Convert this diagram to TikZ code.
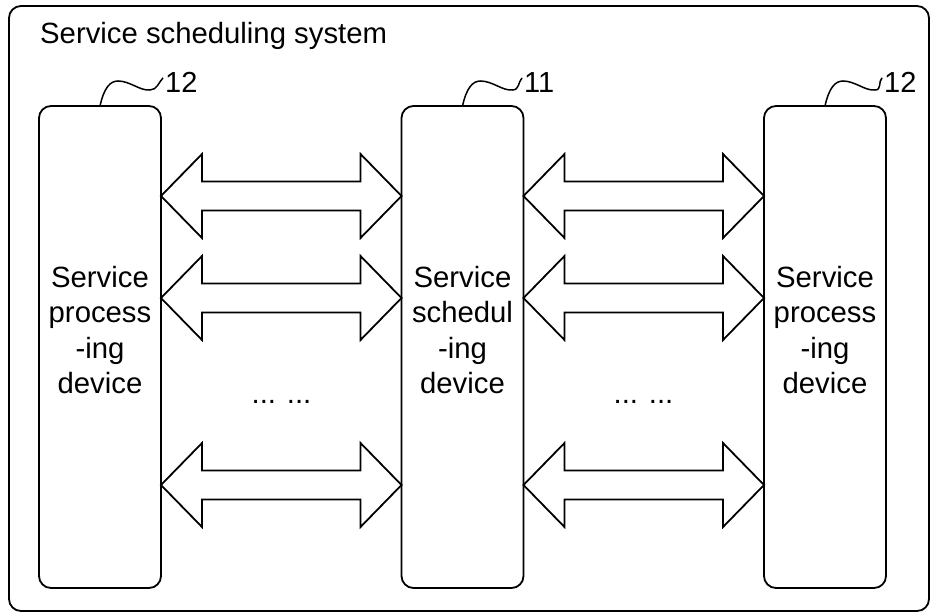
\documentclass[tikz,border=0pt]{standalone}
\usepackage{fontspec}
\setmainfont{Liberation Sans}
\usetikzlibrary{calc}
\tikzset{
  frame/.style={draw,line width=1.8pt,rounded corners=12pt},
  dev/.style={draw,line width=1.8pt,rounded corners=12pt,minimum width=122pt,
    minimum height=482pt,inner sep=0pt,outer sep=0pt},
  txt/.style={font=\fontsize{29.3}{35.5}\selectfont,inner sep=0pt},
  tag/.style={font=\fontsize{29}{34}\selectfont,inner sep=0pt,anchor=base west},
  lead/.style={line width=1.5pt},
  pipe/.style={draw,line width=1.8pt,line join=miter},
}
% two-headed hollow arrow between two tips on one level
\newcommand{\biarrow}[2]{%
  \draw[pipe] (#1) -- ++(41,-42) -- ++(0,27.5) -- ($(#2)+(-41,-14.5)$)
    -- ++(0,-27.5) -- (#2) -- ++(-41,42) -- ++(0,-27.5)
    -- ($(#1)+(41,14.5)$) -- ++(0,27.5) -- cycle;}

\begin{document}
\begin{tikzpicture}[x=1pt,y=-1pt]
  \useasboundingbox (0,0) rectangle (931,613);
  \draw[frame] (9,6) rectangle (929,611);
  \node[txt,anchor=base west] (sys) at (40,43) {Service scheduling system};

  % the three devices
  \node[dev] (pL) at (100,347) {};
  \node[dev] (sc) at (462.5,347) {};
  \node[dev] (pR) at (825,347) {};
  \foreach \b/\t in {pL/{Service\\process\\-ing\\device},
                     sc/{Service\\schedul\\-ing\\device},
                     pR/{Service\\process\\-ing\\device}}
    \node[txt,align=center] (\b-t) at (\b |- 0,330) {\t};

  % reference numerals with their wavy leaders
  \node[tag] (tL) at (165,92) {12};
  \node[tag] (tM) at (524,92) {11};
  \node[tag] (tR) at (884,92) {12};
  \foreach \b/\t in {pL/tL,sc/tM,pR/tR}
    \draw[lead] (\b.north) .. controls +(4,-18) and +(-8,0) .. ++(18,-25)
      .. controls +(12,0) and +(-10,1) .. ++(32,9)
      .. controls +(7,0) and +(-4,4) .. ([shift={(-2,-4)}]\t.west);

  % links between the devices
  \foreach \y in {196,298,485} {
    \coordinate (a\y) at (pL.east |- 0,\y);
    \coordinate (b\y) at (sc.west |- 0,\y);
    \coordinate (c\y) at (sc.east |- 0,\y);
    \coordinate (d\y) at (pR.west |- 0,\y);
    \biarrow{a\y}{b\y}
    \biarrow{c\y}{d\y}
  }
  \node[txt,anchor=base] (gL) at (281.5,403) {... ...};
  \node[txt,anchor=base] (gR) at (643.5,403) {... ...};
\end{tikzpicture}
\end{document}
